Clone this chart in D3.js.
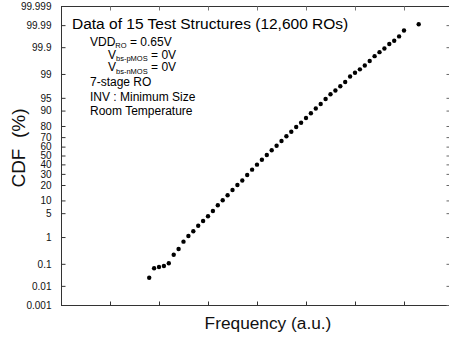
<!DOCTYPE html>
<html><head><meta charset="utf-8">
<script src="https://cdn.jsdelivr.net/npm/d3@7"></script>
<style>
  body { margin: 0; background: #fff; }
  svg { display: block; font-family: Arial, "Liberation Sans", sans-serif; }
</style>
</head><body>
<svg id="chart" width="449" height="344"></svg>
<script>
// Frequency bins (a.u.) and cumulative share of ring oscillators (%) up to each bin
const freq = [1.8, 1.9, 2.0, 2.1, 2.2, 2.3, 2.4, 2.5, 2.6, 2.7,
              2.8, 2.9, 3.0, 3.1, 3.2, 3.3, 3.4, 3.5, 3.6, 3.7,
              3.8, 3.9, 4.0, 4.1, 4.2, 4.3, 4.4, 4.5, 4.6, 4.7,
              4.8, 4.9, 5.0, 5.1, 5.2, 5.3, 5.4, 5.5, 5.6, 5.7,
              5.8, 5.9, 6.0, 6.1, 6.2, 6.3, 6.4, 6.5, 6.6, 6.7,
              6.8, 6.9, 7.0, 7.3];
const cdf = [0.0245, 0.065, 0.073, 0.081, 0.105, 0.233, 0.38, 0.70, 1.08, 1.53,
             2.26, 3.08, 4.14, 5.67, 7.77, 10.1, 12.8, 16.3, 20.0, 23.8,
             28.9, 34.3, 39.7, 45.2, 50.6, 55.9, 61.0, 66.1, 70.8, 75.1,
             79.2, 82.5, 85.8, 88.6, 91.0, 92.9, 94.65, 95.96, 96.81, 97.58,
             98.20, 98.79, 99.09, 99.30, 99.49, 99.65, 99.77, 99.84, 99.887, 99.927,
             99.947, 99.966, 99.982, 99.991];

// Probability-axis ticks (%) and their printed labels
const yTicks = [0.001, 0.01, 0.1, 1, 5, 10, 20, 30, 40, 50, 60, 70, 80, 90, 95, 99, 99.9, 99.99, 99.999];
const yTickLabels = ["0.001", "0.01", "0.1", "1", "5", "10", "20", "30", "40", "50",
                     "60", "70", "80", "90", "95", "99", "99.9", "99.99", "99.999"];
const xTicks = [1, 2, 3, 4, 5, 6, 7];

const legendTitle = "Data of 15 Test Structures (12,600 ROs)";
const conditions = [
  { main: "VDD", sub: "RO", rest: " = 0.65V", indent: 0 },
  { main: "V", sub: "bs-pMOS", rest: " = 0V", indent: 1 },
  { main: "V", sub: "bs-nMOS", rest: " = 0V", indent: 1 },
  { main: "7-stage RO", sub: "", rest: "", indent: 0 },
  { main: "INV : Minimum Size", sub: "", rest: "", indent: 0 },
  { main: "Room Temperature", sub: "", rest: "", indent: 0 }
];

// Inverse standard normal CDF (Acklam's rational approximation)
function probit(p) {
  const a = [-3.969683028665376e+01, 2.209460984245205e+02, -2.759285104469687e+02,
             1.383577518672690e+02, -3.066479806614716e+01, 2.506628277459239e+00];
  const b = [-5.447609879822406e+01, 1.615858368580409e+02, -1.556989798598866e+02,
             6.680131188771972e+01, -1.328068155288572e+01];
  const c = [-7.784894002430293e-03, -3.223964580411365e-01, -2.400758277161838e+00,
             -2.549671058254502e+00, 4.374664141464968e+00, 2.938163982698783e+00];
  const d = [7.784695709041462e-03, 3.224671290700398e-01, 2.445134137142996e+00,
             3.754408361038024e+00];
  const pl = 0.02425;
  let q, r;
  if (p < pl) {
    q = Math.sqrt(-2 * Math.log(p));
    return (((((c[0]*q+c[1])*q+c[2])*q+c[3])*q+c[4])*q+c[5]) /
           ((((d[0]*q+d[1])*q+d[2])*q+d[3])*q+1);
  } else if (p <= 1 - pl) {
    q = p - 0.5; r = q * q;
    return (((((a[0]*r+a[1])*r+a[2])*r+a[3])*r+a[4])*r+a[5])*q /
           (((((b[0]*r+b[1])*r+b[2])*r+b[3])*r+b[4])*r+1);
  } else {
    q = Math.sqrt(-2 * Math.log(1 - p));
    return -(((((c[0]*q+c[1])*q+c[2])*q+c[3])*q+c[4])*q+c[5]) /
            ((((d[0]*q+d[1])*q+d[2])*q+d[3])*q+1);
  }
}
const z = pct => probit(pct / 100);

const svg = d3.select("#chart");
const plot = { left: 61, right: 450, top: 6, bottom: 305 };

const x = d3.scaleLinear().domain([0, 8]).range([plot.left, plot.left + 49 * 8]);
const yz = d3.scaleLinear().domain([z(0.001), z(99.999)]).range([plot.bottom, plot.top]);
const y = pct => yz(z(pct));

const frameColor = "#333";
const tickLen = 4;

// frame
svg.append("rect")
  .attr("x", plot.left + 0.5).attr("y", plot.top + 0.5)
  .attr("width", plot.right - plot.left).attr("height", plot.bottom - plot.top)
  .attr("fill", "none").attr("stroke", frameColor).attr("stroke-width", 1);

// left axis: inward ticks with labels
const leftAxis = d3.axisLeft(yz)
  .tickValues(yTicks.map(z))
  .tickFormat((d, i) => yTickLabels[i])
  .tickSizeInner(-tickLen).tickSizeOuter(0).tickPadding(6 + tickLen);
const gL = svg.append("g").attr("transform", `translate(${plot.left + 0.5},0)`).call(leftAxis);
gL.select(".domain").remove();
gL.selectAll("line").attr("stroke", frameColor);
gL.selectAll("text").attr("font-size", 10).attr("fill", "#111")
  .attr("font-family", "Arial, 'Liberation Sans', sans-serif");

// right axis: inward ticks, no labels
const rightAxis = d3.axisRight(yz)
  .tickValues(yTicks.slice(0, -1).map(z)).tickFormat("")
  .tickSizeInner(-tickLen).tickSizeOuter(0);
const gR = svg.append("g").attr("transform", `translate(${plot.right + 0.5},0)`).call(rightAxis);
gR.select(".domain").remove();
gR.selectAll("line").attr("stroke", "#666");

// bottom and top axes: inward ticks only
const bottomAxis = d3.axisBottom(x).tickValues(xTicks).tickFormat("")
  .tickSizeInner(-tickLen).tickSizeOuter(0);
const gB = svg.append("g").attr("transform", `translate(0,${plot.bottom + 0.5})`).call(bottomAxis);
gB.select(".domain").remove();
gB.selectAll("line").attr("stroke", frameColor);

const topAxis = d3.axisTop(x).tickValues(xTicks).tickFormat("")
  .tickSizeInner(-tickLen).tickSizeOuter(0);
const gT = svg.append("g").attr("transform", `translate(0,${plot.top + 0.5})`).call(topAxis);
gT.select(".domain").remove();
gT.selectAll("line").attr("stroke", "#777");

// data points
const pts = freq.map((f, i) => ({ f, p: cdf[i] }));
svg.append("g").selectAll("circle").data(pts).join("circle")
  .attr("cx", d => x(d.f)).attr("cy", d => y(d.p))
  .attr("r", 2.2).attr("fill", "#000");

// axis titles
svg.append("text")
  .attr("transform", "translate(25,148) rotate(-90)")
  .attr("text-anchor", "middle")
  .attr("font-size", 19).attr("fill", "#111")
  .style("white-space", "pre")
  .text("CDF  (%)");

svg.append("text")
  .attr("x", 268).attr("y", 329)
  .attr("text-anchor", "middle")
  .attr("font-size", 17.3).attr("fill", "#111")
  .text("Frequency (a.u.)");

// legend block
svg.append("text")
  .attr("x", 72).attr("y", 28.5)
  .attr("font-size", 15.5).attr("fill", "#000")
  .text(legendTitle);

const baselines = [45.5, 58.5, 71, 86, 100.5, 114.5];
conditions.forEach((c, i) => {
  const t = svg.append("text")
    .attr("x", c.indent ? 108 : 90).attr("y", baselines[i])
    .attr("font-size", 12).attr("fill", "#000");
  t.append("tspan").text(c.main);
  if (c.sub) {
    t.append("tspan").attr("font-size", 7.5).attr("dy", 2.5).text(c.sub);
    t.append("tspan").attr("dy", -2.5).text(c.rest);
  }
});
</script>
</body></html>
